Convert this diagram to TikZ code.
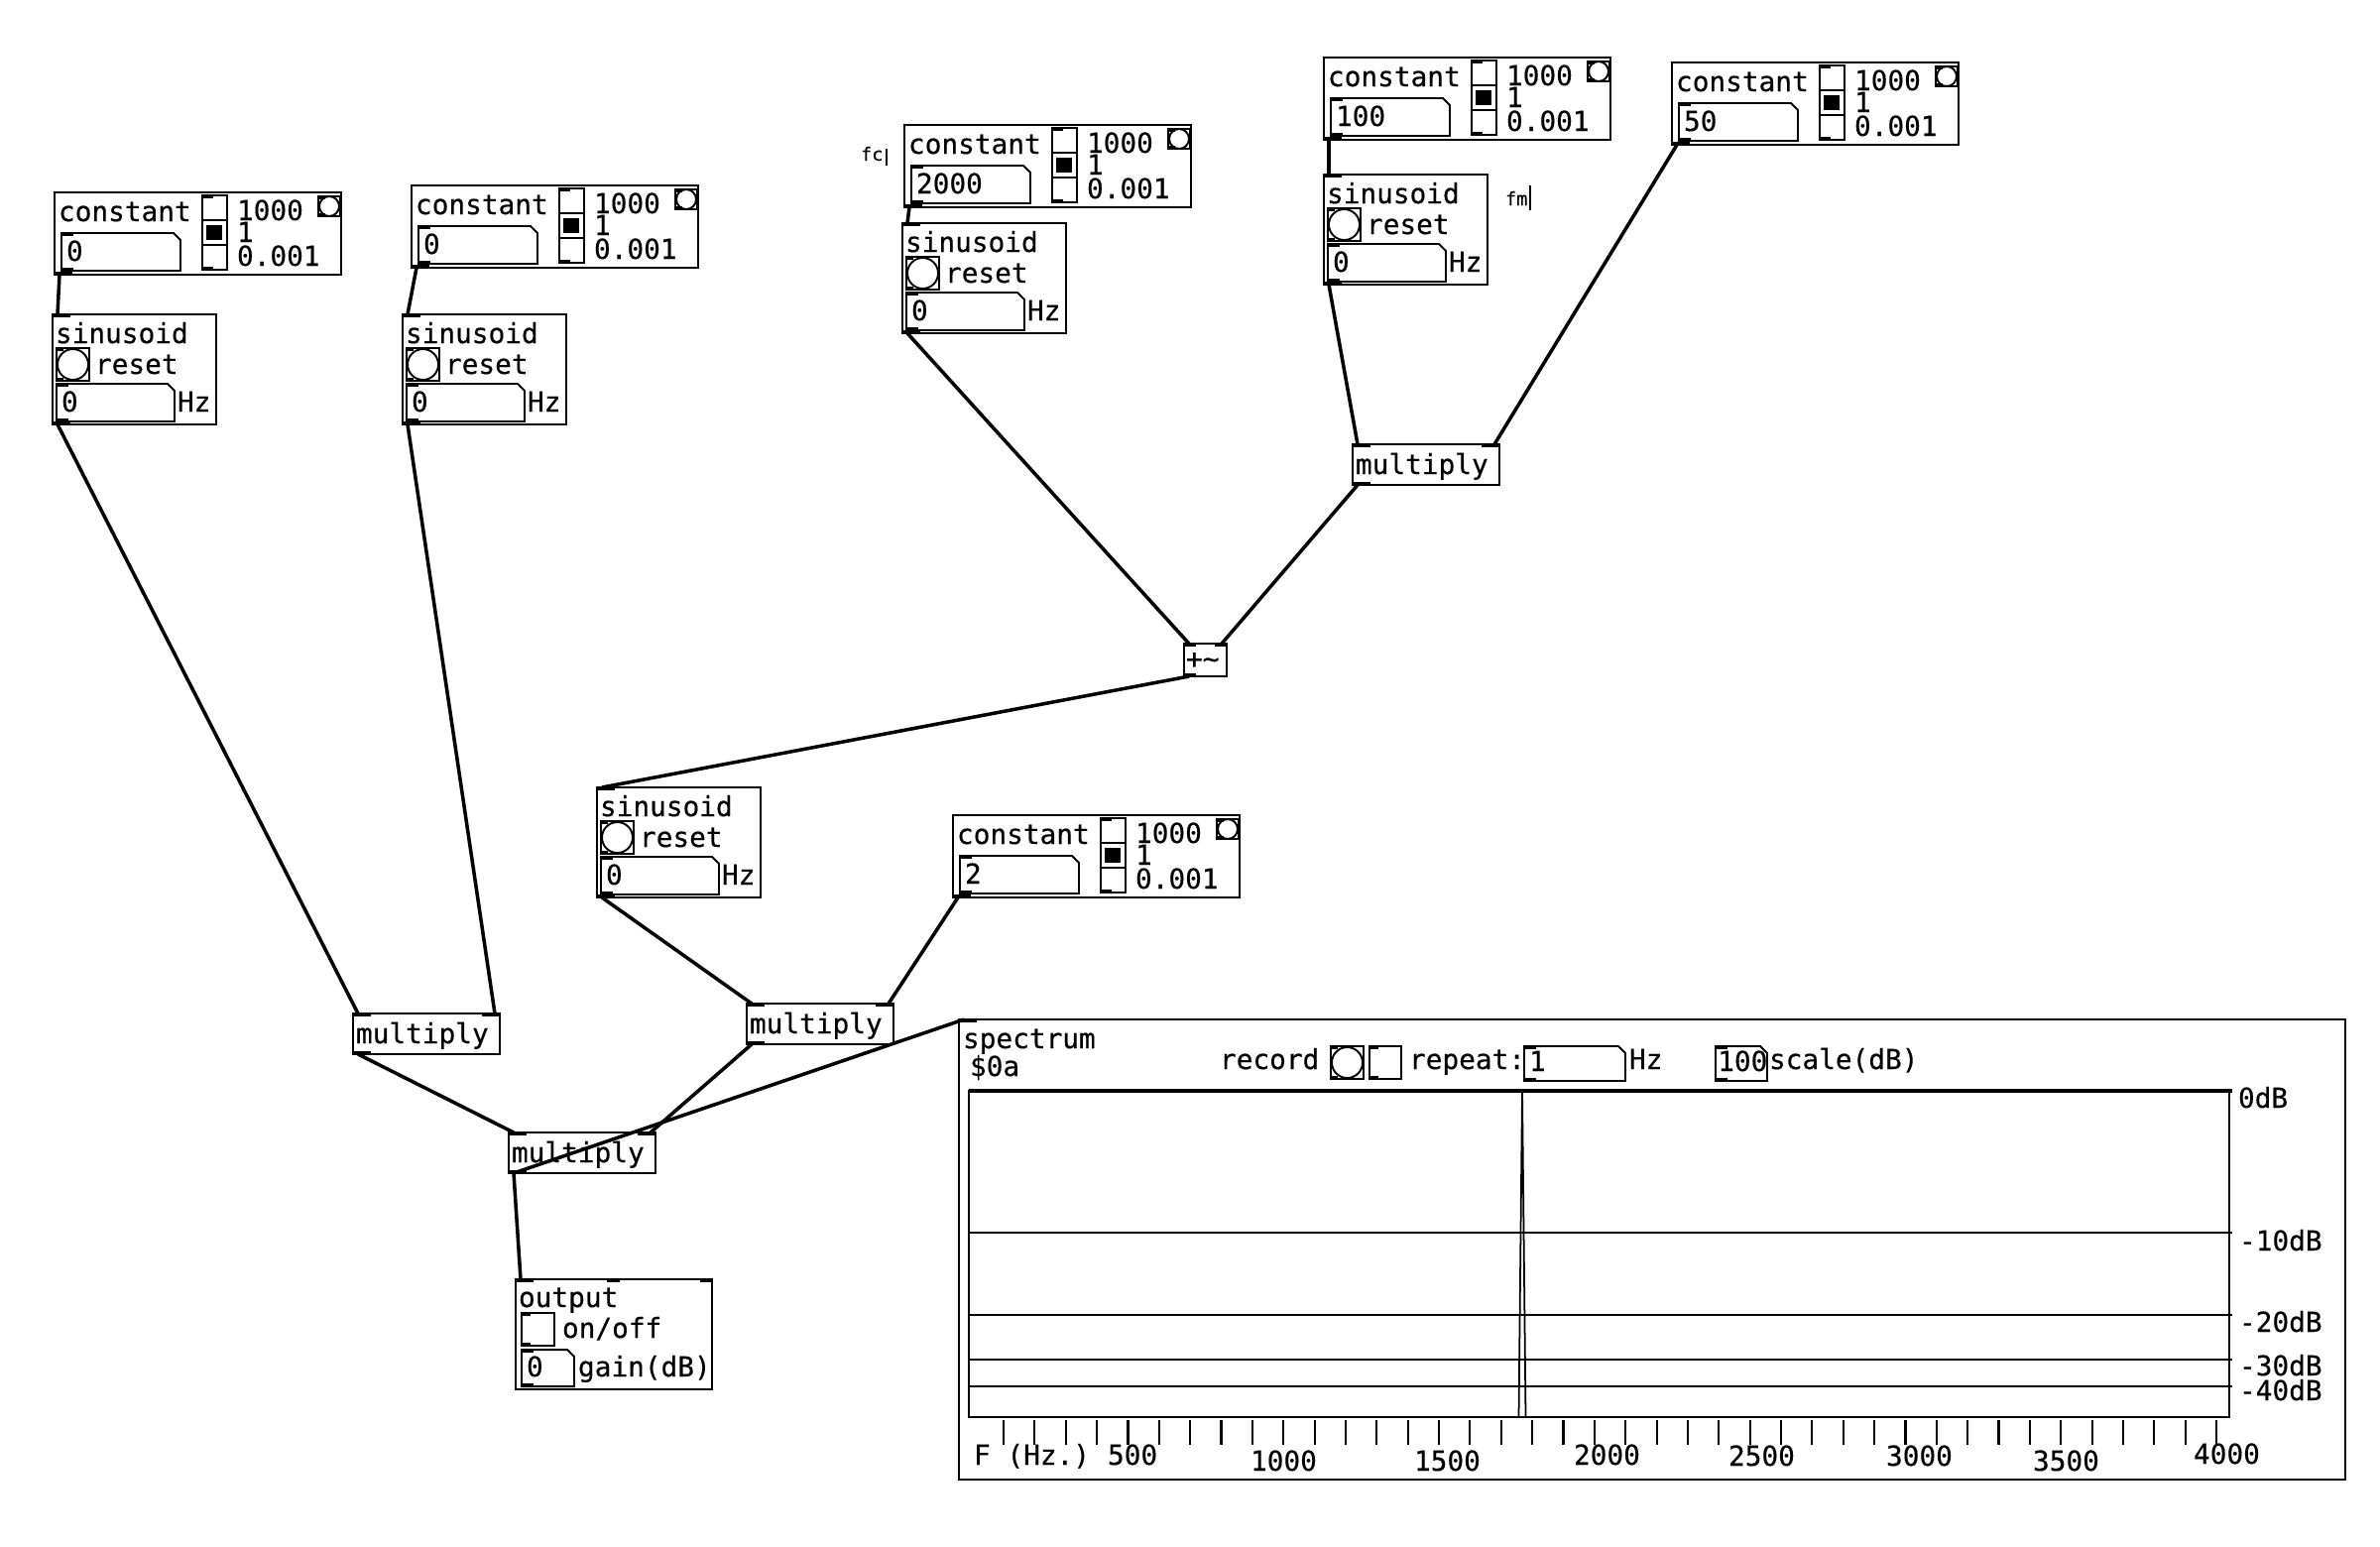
\documentclass[tikz,border=0pt]{standalone}
\usepackage{fontspec}
\newfontfamily\pdmono[FakeBold=0.4]{DejaVu Sans Mono}
\tikzset{
  x=0.1mm, y=-0.1mm,
  pdbox/.style={draw, line width=0.55pt, inner sep=0, outer sep=0, anchor=north west, fill=white},
  pdtxt/.style={anchor=base west, inner sep=0, outer sep=0, font=\pdmono\fontsize{7.9pt}{9pt}\selectfont},
  pdsmall/.style={anchor=base west, inner sep=0, outer sep=0, font=\pdmono\fontsize{5.3pt}{6pt}\selectfont},
  wire/.style={line width=1pt},
  thinline/.style={line width=0.55pt},
}
\newcommand{\pdnum}[5]{%
  \draw[thinline] (#1,#2) -- ({#3-7},#2) -- (#3,{#2+7}) -- (#3,#4) -- (#1,#4) -- cycle;
  \fill (#1,#2) rectangle ({#1+12},{#2+3});
  \fill (#1,{#4-3}) rectangle ({#1+12},#4);
  \node[pdtxt] at ({#1+5},{#4-10}) {#5};
}
\newcommand{\pdbang}[4]{%
  \draw[thinline] (#1,#2) rectangle (#3,#4);
  \draw[thinline] ({(#1+#3)/2},{(#2+#4)/2}) circle [radius={(#3-#1)/2-1}];
  \fill (#1,#2) rectangle ({#1+7},{#2+3});
  \fill (#1,{#4-3}) rectangle ({#1+7},#4);
}
\newcommand{\pdtoggle}[4]{%
  \draw[thinline] (#1,#2) rectangle (#3,#4);
  \fill (#1,#2) rectangle ({#1+9},{#2+3});
  \fill (#1,{#4-3}) rectangle ({#1+9},#4);
}
\newcommand{\pdconst}[4]{%
  \begin{scope}[shift={(#2,#3)}]
    \node[pdbox, minimum width=28.9mm, minimum height=8.3mm] (#1) at (0,0) {};
    \fill (0,80) rectangle (18,83);
    \coordinate (#1-out) at (5,83);
    \node[pdtxt] at (4,29) {constant};
    \pdnum{7}{41}{127}{79}{#4}
    \draw[thinline] (149,3) rectangle (174,78);
    \draw[thinline] (149,28) -- (174,28) (149,53) -- (174,53);
    \fill (153,33) rectangle (169,48);
    \fill (149,3) rectangle (160,6);
    \fill (149,75) rectangle (160,78);
    \node[pdtxt] at (184,28) {1000};
    \node[pdtxt] at (184,50) {1};
    \node[pdtxt] at (184,74) {0.001};
    \pdbang{266}{4}{288}{24}
  \end{scope}}
\newcommand{\pdsin}[3]{%
  \begin{scope}[shift={(#2,#3)}]
    \node[pdbox, minimum width=16.5mm, minimum height=11.1mm] (#1) at (0,0) {};
    \fill (0,0) rectangle (18,3);
    \fill (0,108) rectangle (18,111);
    \coordinate (#1-in) at (5,0);
    \coordinate (#1-out) at (5,111);
    \node[pdtxt] at (3,29) {sinusoid};
    \pdbang{4}{34}{37}{67}
    \node[pdtxt] at (43,60) {reset};
    \pdnum{4}{70}{123}{108}{0}
    \node[pdtxt] at (126,98) {Hz};
  \end{scope}}
\newcommand{\pdmul}[3]{%
  \begin{scope}[shift={(#2,#3)}]
    \node[pdbox, minimum width=14.8mm, minimum height=4.1mm] (#1) at (0,0) {};
    \fill (0,0) rectangle (18,3);
    \fill (130,0) rectangle (148,3);
    \fill (0,38) rectangle (18,41);
    \coordinate (#1-in1) at (5,0);
    \coordinate (#1-in2) at (143,0);
    \coordinate (#1-out) at (5,41);
    \node[pdtxt] at (3,30) {multiply};
  \end{scope}}
\begin{document}
\begin{tikzpicture}
\useasboundingbox (0,0) rectangle (2400,1559);
\fill[white] (0,0) rectangle (2400,1559);

% constants
\pdconst{cA}{55}{194}{0}
\pdconst{cB}{415}{187}{0}
\pdconst{cFc}{912}{126}{2000}
\pdconst{cD}{1335}{58}{100}
\pdconst{cE}{1686}{63}{50}
\pdconst{cF}{961}{822}{2}

% sinusoids
\pdsin{sA}{53}{317}
\pdsin{sB}{406}{317}
\pdsin{sFc}{910}{225}
\pdsin{sD}{1335}{176}
\pdsin{sC}{602}{794}

% multiplies
\pdmul{mA}{356}{1022}
\pdmul{mB}{753}{1012}
\pdmul{mC}{513}{1142}
\pdmul{mD}{1364}{448}

% +~
\begin{scope}[shift={(1194,649)}]
  \node[pdbox, minimum width=4.3mm, minimum height=3.3mm] (plus) at (0,0) {};
  \fill (0,0) rectangle (12,3);
  \fill (31,0) rectangle (43,3);
  \fill (0,30) rectangle (12,33);
  \coordinate (plus-in1) at (5,0);
  \coordinate (plus-in2) at (38,0);
  \coordinate (plus-out) at (5,33);
  \node[pdtxt] at (2,25) {+\char"007E};
\end{scope}

% comments
\node[pdsmall] (fc) at (868,162) {fc};
\draw[line width=0.5pt] (894,150) -- (894,167);
\node[pdsmall] (fm) at (1518,207) {fm};
\draw[line width=0.5pt] (1543,187) -- (1543,212);

% output
\begin{scope}[shift={(520,1290)}]
  \node[pdbox, minimum width=19.8mm, minimum height=11.1mm] (out) at (0,0) {};
  \fill (0,0) rectangle (18,3);
  \fill (92,0) rectangle (105,3);
  \fill (186,0) rectangle (198,3);
  \coordinate (out-in) at (5,0);
  \node[pdtxt] at (3,28) {output};
  \pdtoggle{6}{34}{39}{67}
  \node[pdtxt] at (47,59) {on/off};
  \pdnum{6}{71}{59}{108}{0}
  \node[pdtxt] at (63,98) {gain(dB)};
\end{scope}

% spectrum
\node[pdbox, minimum width=139.8mm, minimum height=46.4mm] (spec) at (967,1028) {};
\fill (967,1028) rectangle (985,1031);
\coordinate (spec-in) at (972,1028);
\node[pdtxt] at (971,1057) {spectrum};
\node[pdtxt] at (978,1085) {\$0a};
\node[pdtxt] at (1230,1078) {record};
\pdbang{1342}{1055}{1375}{1088}
\pdtoggle{1381}{1055}{1413}{1088}
\node[pdtxt] at (1421,1078) {repeat:};
\pdnum{1537}{1055}{1639}{1090}{1}
\node[pdtxt] at (1643,1078) {Hz};
\pdnum{1730}{1055}{1782}{1090}{\hspace*{-2\pgflinewidth}100}
\node[pdtxt] at (1784,1078) {scale(dB)};
% plot
\draw[thinline] (977,1100) rectangle (2248,1429);
\draw[line width=1pt] (977,1100) -- (2251,1100);
\foreach \yy in {1243,1326,1371,1398} \draw[thinline] (977,\yy) -- (2251,\yy);
\draw[line width=0.5pt] (977,1429) -- (1531.5,1429) -- (1535,1100) -- (1538.5,1429) -- (2248,1429);
\foreach \i in {1,...,40} {
  \pgfmathsetmacro{\xx}{1012+(\i-1)*31.36}
  \draw[line width=0.6pt] (\xx,1432) -- (\xx,1457);
}
\node[pdtxt] at (2257,1117) {0dB};
\node[pdtxt] at (2258,1261) {-10dB};
\node[pdtxt] at (2258,1343) {-20dB};
\node[pdtxt] at (2258,1387) {-30dB};
\node[pdtxt] at (2258,1412) {-40dB};
\node[pdtxt] at (982,1477) {F (Hz.)};
\node[pdtxt] at (1117,1477) {500};
\node[pdtxt] at (1261,1483) {1000};
\node[pdtxt] at (1426,1483) {1500};
\node[pdtxt] at (1587,1477) {2000};
\node[pdtxt] at (1743,1478) {2500};
\node[pdtxt] at (1902,1478) {3000};
\node[pdtxt] at (2050,1483) {3500};
\node[pdtxt] at (2212,1476) {4000};

% wires
\draw[wire] (cA-out) -- (sA-in);
\draw[wire] (cB-out) -- (sB-in);
\draw[wire] (cFc-out) -- (sFc-in);
\draw[wire] (cD-out) -- (sD-in);
\draw[wire] (sA-out) -- (mA-in1);
\draw[wire] (sB-out) -- (mA-in2);
\draw[wire] (sFc-out) -- (plus-in1);
\draw[wire] (sD-out) -- (mD-in1);
\draw[wire] (cE-out) -- (mD-in2);
\draw[wire] (mD-out) -- (plus-in2);
\draw[wire] (plus-out) -- (sC-in);
\draw[wire] (sC-out) -- (mB-in1);
\draw[wire] (cF-out) -- (mB-in2);
\draw[wire] (mA-out) -- (mC-in1);
\draw[wire] (mB-out) -- (mC-in2);
\draw[wire] (mC-out) -- (spec-in);
\draw[wire] (mC-out) -- (out-in);
\end{tikzpicture}
\end{document}
